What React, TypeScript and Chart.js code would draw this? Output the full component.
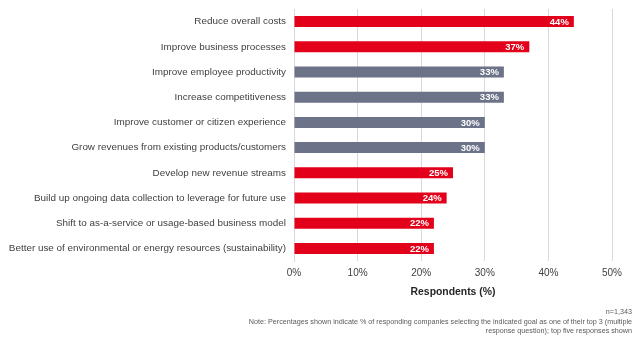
import React, { useEffect, useRef } from "react";
import { Chart, registerables } from "chart.js";

Chart.register(...registerables);

const categories = [
  "Reduce overall costs",
  "Improve business processes",
  "Improve employee productivity",
  "Increase competitiveness",
  "Improve customer or citizen experience",
  "Grow revenues from existing products/customers",
  "Develop new revenue streams",
  "Build up ongoing data collection to leverage for future use",
  "Shift to as-a-service or usage-based business model",
  "Better use of environmental or energy resources (sustainability)",
];
const values = [44, 37, 33, 33, 30, 30, 25, 24, 22, 22];
const highlighted = [true, true, false, false, false, false, true, true, true, true];
const xTicks = [0, 10, 20, 30, 40, 50];
const axisTitle = "Respondents (%)";
const sampleNote = "n=1,343";
const noteLines = [
  "Note: Percentages shown indicate % of responding companies selecting the indicated goal as one of their top 3 (multiple",
  "response question); top five responses shown",
];

const RED = "#E2001A";
const GREY = "#6C7389";
const FONT = "'Liberation Sans', Arial, sans-serif";

const labelPlugin = {
  id: "barLabels",
  afterDatasetsDraw(chart: any) {
    const ctx = chart.ctx;
    const meta = chart.getDatasetMeta(0);
    ctx.save();
    ctx.font = `bold 9.5px ${FONT}`;
    ctx.fillStyle = "#ffffff";
    ctx.textAlign = "right";
    ctx.textBaseline = "middle";
    meta.data.forEach((bar: any, i: number) => {
      ctx.fillText(`${values[i]}%`, bar.x - 5, bar.y + 0.5);
    });
    ctx.restore();
  },
};

export default function App() {
  const ref = useRef<HTMLCanvasElement>(null);
  useEffect(() => {
    if (!ref.current) return;
    const chart = new Chart(ref.current, {
      type: "bar",
      data: {
        labels: categories,
        datasets: [
          {
            data: values,
            backgroundColor: highlighted.map((h) => (h ? RED : GREY)),
            barPercentage: 0.87,
            categoryPercentage: 0.5,
          },
        ],
      },
      options: {
        indexAxis: "y",
        responsive: false,
        animation: false,
        layout: { padding: { top: 9, right: 28, bottom: 40, left: 0 } },
        plugins: { legend: { display: false }, tooltip: { enabled: false } },
        scales: {
          x: {
            min: 0,
            max: 50,
            afterBuildTicks: (scale: any) => {
              scale.ticks = xTicks.map((v) => ({ value: v }));
            },
            afterFit: (scale: any) => {
              scale.height = 40;
            },
            ticks: {
              callback: (v: any) => `${v}%`,
              color: "#404040",
              font: { family: FONT, size: 10 },
              padding: 6,
              maxRotation: 0,
            },
            grid: { color: "#D9D9D9", drawTicks: false, lineWidth: 1 },
            border: { display: false },
            title: {
              display: true,
              text: axisTitle,
              color: "#262626",
              font: { family: FONT, size: 10.4, weight: "bold" },
              padding: { top: 4, bottom: 3 },
            },
          },
          y: {
            afterFit: (scale: any) => {
              scale.width = 294;
            },
            ticks: {
              color: "#404040",
              font: { family: FONT, size: 9.9 },
              padding: 0,
              autoSkip: false,
            },
            grid: { display: false, drawTicks: true, tickLength: 8 },
            border: { display: true, color: "#D9D9D9", width: 1 },
          },
        },
      },
      plugins: [labelPlugin],
    });
    return () => chart.destroy();
  }, []);

  return (
    <div style={{ position: "absolute", left: 0, top: 0, width: 640, height: 341, background: "#fff" }}>
      <canvas ref={ref} width={640} height={341} style={{ display: "block" }} />
      <div
        style={{
          position: "absolute",
          right: 8,
          top: 307,
          width: 420,
          textAlign: "right",
          fontFamily: FONT,
          fontSize: 7.2,
          lineHeight: "9.5px",
          color: "#595959",
        }}
      >
        <div>{sampleNote}</div>
        {noteLines.map((l, i) => (
          <div key={i} style={{ whiteSpace: "nowrap" }}>{l}</div>
        ))}
      </div>
    </div>
  );
}
